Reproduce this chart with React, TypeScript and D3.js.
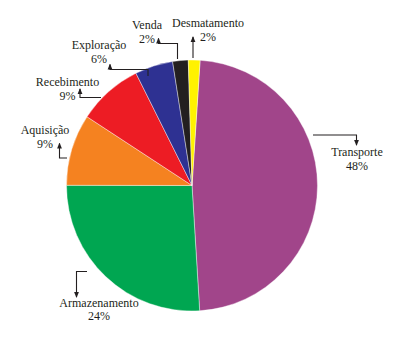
import React, { useEffect } from "react";
import * as d3 from "d3";

const categories = ["Transporte", "Armazenamento", "Aquisição", "Recebimento", "Exploração", "Venda", "Desmatamento"];
const values = [48.0, 26.0, 9.2, 8.4, 4.9, 2.0, 1.5];
const labelPercents = ["48%", "24%", "9%", "9%", "6%", "2%", "2%"];
const colors = ["#A1458A", "#00A651", "#F58220", "#ED1C24", "#2E3192", "#231F20", "#FFF200"];

const W = 400;
const H = 344;
const cx = 192;
const cy = 185.5;
const R = 125.5;
const startDeg = 3.7;

// label layout: text anchor point (center x, baseline y of first line) and leader polyline (last point gets arrowhead)
const layout: Record<string, { tx: number; ty: number; path: [number, number][] }> = {
  Transporte: { tx: 357, ty: 156, path: [[313, 135], [356.5, 135], [356.5, 145]] },
  Armazenamento: { tx: 99, ty: 306.5, path: [[87, 271.5], [76.5, 271.5], [76.5, 297]] },
  "Aquisição": { tx: 45, ty: 134, path: [[67, 158], [59.5, 158], [59.5, 143.5]] },
  Recebimento: { tx: 67.5, ty: 86, path: [[101, 97.5], [80, 97.5], [80, 89]] },
  "Exploração": { tx: 99, ty: 49, path: [[148, 76], [148, 69.5], [110, 69.5], [110, 64.5]] },
  Venda: { tx: 147, ty: 29, path: [[177.5, 59], [177.5, 43.5], [158.5, 43.5], [158.5, 38.5]] },
  Desmatamento: { tx: 208, ty: 27, path: [[193, 58], [193, 37]] },
};

export default function App() {
  useEffect(() => {
    document.body.style.margin = "0";
  }, []);

  const pie = d3
    .pie<number>()
    .sort(null)
    .value((d) => d)
    .startAngle((startDeg * Math.PI) / 180)
    .endAngle((startDeg * Math.PI) / 180 + 2 * Math.PI);
  const arcs = pie(values);
  const arc = d3.arc<d3.PieArcDatum<number>>().innerRadius(0).outerRadius(R);
  const line = d3.line();

  const font = "'Liberation Serif', 'DejaVu Serif', serif";
  const ink = "#231F20";

  return (
    <svg width={W} height={H} style={{ position: "absolute", left: 0, top: 0, background: "#fff" }}>
      <defs>
        <marker id="arr" viewBox="0 0 6 6" refX="5" refY="3" markerWidth="6" markerHeight="6" orient="auto" markerUnits="userSpaceOnUse">
          <path d="M0,0.6 L6,3 L0,5.4 Z" fill={ink} />
        </marker>
      </defs>
      <g transform={`translate(${cx},${cy})`}>
        {arcs.map((a, i) => (
          <path key={categories[i]} d={arc(a) || ""} fill={colors[i]} stroke="#fff" strokeWidth={0.4} />
        ))}
      </g>
      {categories.map((c, i) => {
        const L = layout[c];
        return (
          <g key={c}>
            <path d={line(L.path) || ""} fill="none" stroke={ink} strokeWidth={1.1} markerEnd="url(#arr)" />
            <text x={L.tx} y={L.ty} textAnchor="middle" fontFamily={font} fontSize={12} fill={ink}>
              {c}
            </text>
            <text x={L.tx} y={L.ty + 13.5} textAnchor="middle" fontFamily={font} fontSize={12} fill={ink}>
              {labelPercents[i]}
            </text>
          </g>
        );
      })}
    </svg>
  );
}
